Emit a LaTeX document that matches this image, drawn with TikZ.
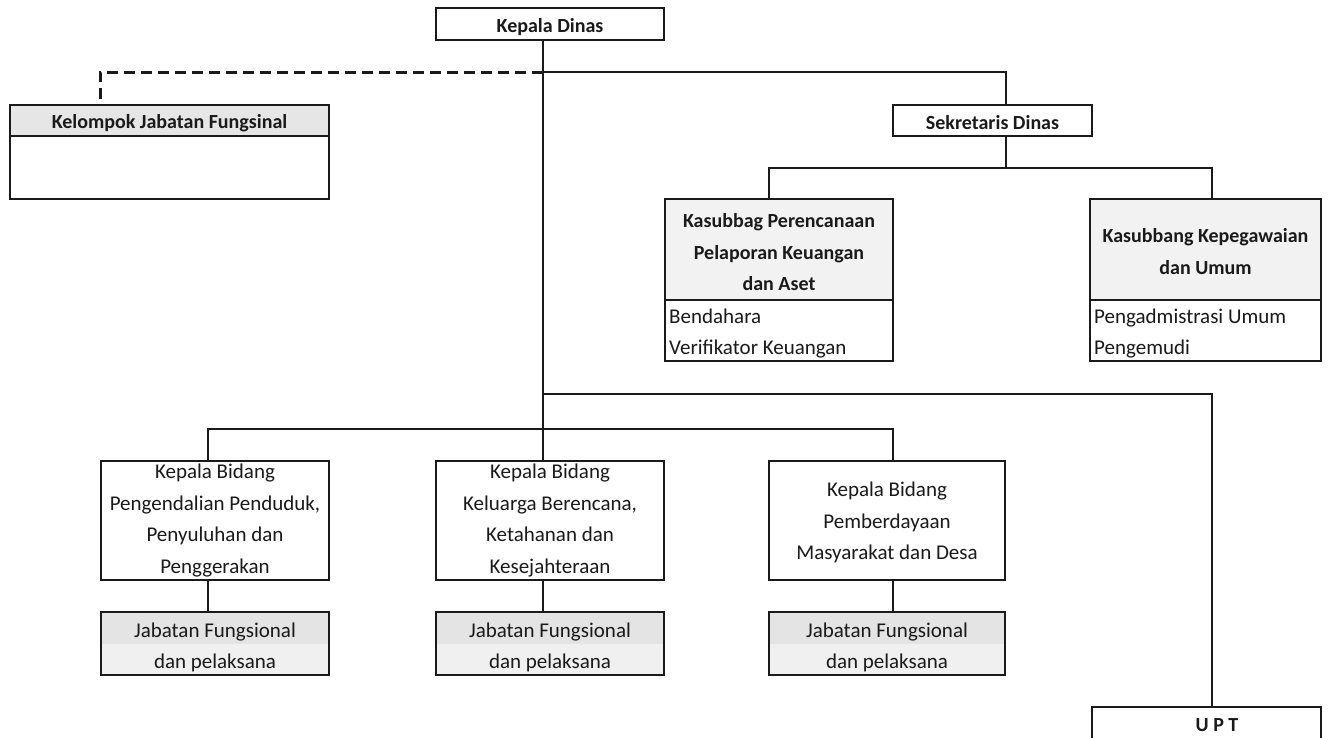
\documentclass[tikz,border=0pt]{standalone}
\usepackage{fontspec}
\setmainfont{Carlito}
\definecolor{hdrA}{HTML}{E6E6E6}
\definecolor{hdrB}{HTML}{F2F2F2}
\definecolor{jabTop}{HTML}{E4E4E4}
\definecolor{jabBot}{HTML}{F0F0F0}
\definecolor{ink}{HTML}{1A1A1A}
\begin{document}
\begin{tikzpicture}[x=1pt,y=-1pt,
  box/.style={draw=ink, line width=1.4pt, anchor=north west, inner sep=0pt, outer sep=0pt, fill=white},
  txt/.style={font=\fontsize{21}{31.5}\selectfont, align=center, inner sep=0pt, text=ink},
  btxt/.style={font=\bfseries\fontsize{20}{31.5}\selectfont, align=center, inner sep=0pt, text=ink},
  ltxt/.style={font=\fontsize{21}{31}\selectfont, align=left, inner sep=0pt, text=ink, anchor=west},
  conn/.style={draw=ink, line width=1.4pt},
  dashconn/.style={draw=ink, line width=3pt, dash pattern=on 11pt off 6pt},
  jab/.style={box, fill=jabBot, path picture={\fill[jabTop] (path picture bounding box.north west) rectangle (path picture bounding box.east);}}
]
\useasboundingbox (0,0) rectangle (1329,737);

% coordinates of junctions
\coordinate (t0) at (100,72);
\coordinate (t1) at (543,72);
\coordinate (t2) at (1006,72);
\coordinate (s1) at (1006,168);
\coordinate (s2) at (769,168);
\coordinate (s3) at (1212,168);
\coordinate (m1) at (543,394);
\coordinate (m2) at (1212,394);
\coordinate (b1) at (208,429);
\coordinate (b2) at (543,429);
\coordinate (b3) at (893,429);

% boxes
\node[box, minimum width=228, minimum height=32] (kd) at (436,8) {};
\node[btxt] (kdt) at ([yshift=-3]kd.center) {Kepala Dinas};

\node[box, fill=hdrA, minimum width=319, minimum height=31] (kjfh) at (10,105) {};
\node[btxt] (kjft) at ([yshift=-3]kjfh.center) {Kelompok Jabatan Fungsinal};
\node[box, minimum width=319, minimum height=63] (kjfb) at (10,136) {};

\node[box, minimum width=199, minimum height=31] (sek) at (893,105) {};
\node[btxt] (sekt) at ([yshift=-2]sek.center) {Sekretaris Dinas};

\node[box, fill=hdrB, minimum width=228, minimum height=101] (ksph) at (665,199) {};
\node[btxt] (kspt) at ([yshift=-3]ksph.center) {Kasubbag Perencanaan\\Pelaporan Keuangan\\dan Aset};
\node[box, minimum width=228, minimum height=61] (kspb) at (665,300) {};
\node[ltxt] (kspl) at ([xshift=4,yshift=-3]kspb.west) {Bendahara\\Verifikator Keuangan};

\node[box, fill=hdrB, minimum width=231, minimum height=101] (kskh) at (1090,199) {};
\node[btxt] (kskt) at ([yshift=-2]kskh.center) {Kasubbang Kepegawaian\\dan Umum};
\node[box, minimum width=231, minimum height=61] (kskb) at (1090,300) {};
\node[ltxt] (kskl) at ([xshift=4,yshift=-3]kskb.west) {Pengadmistrasi Umum\\Pengemudi};

\node[box, minimum width=228, minimum height=119] (bid1) at (101,461) {};
\node[txt] (bid1t) at (bid1.center) {Kepala Bidang\\Pengendalian Penduduk,\\Penyuluhan dan\\Penggerakan};
\node[box, minimum width=228, minimum height=119] (bid2) at (436,461) {};
\node[txt] (bid2t) at (bid2.center) {Kepala Bidang\\Keluarga Berencana,\\Ketahanan dan\\Kesejahteraan};
\node[box, minimum width=236, minimum height=119] (bid3) at (769,461) {};
\node[txt] (bid3t) at ([yshift=-2]bid3.center) {Kepala Bidang\\Pemberdayaan\\Masyarakat dan Desa};

\node[jab, minimum width=228, minimum height=63] (jab1) at (101,612) {};
\node[txt] (jab1t) at ([yshift=-4]jab1.center) {Jabatan Fungsional\\dan pelaksana};
\node[jab, minimum width=228, minimum height=63] (jab2) at (436,612) {};
\node[txt] (jab2t) at ([yshift=-4]jab2.center) {Jabatan Fungsional\\dan pelaksana};
\node[jab, minimum width=236, minimum height=63] (jab3) at (769,612) {};
\node[txt] (jab3t) at ([yshift=-4]jab3.center) {Jabatan Fungsional\\dan pelaksana};

\node[box, minimum width=229, minimum height=40] (upt) at (1092,707) {};
\node[btxt] (uptt) at (1217,725) {U P T};

% connectors
\draw[conn] (kd.south -| t1) -- (bid2.north -| t1);
\draw[conn] (t1) -- (t2) -- (sek.north -| t2);
\draw[dashconn] (t1) -- (t0) -- (kjfh.north -| t0);
\draw[conn] (sek.south -| s1) -- (s1);
\draw[conn] (ksph.north -| s2) -- (s2) -- (s3) -- (kskh.north -| s3);
\draw[conn] (m1) -- (m2) -- (upt.north -| m2);
\draw[conn] (bid1.north -| b1) -- (b1) -- (b3) -- (bid3.north -| b3);
\draw[conn] (bid1.south -| b1) -- (jab1.north -| b1);
\draw[conn] (bid2.south -| b2) -- (jab2.north -| b2);
\draw[conn] (bid3.south -| b3) -- (jab3.north -| b3);
\end{tikzpicture}
\end{document}
